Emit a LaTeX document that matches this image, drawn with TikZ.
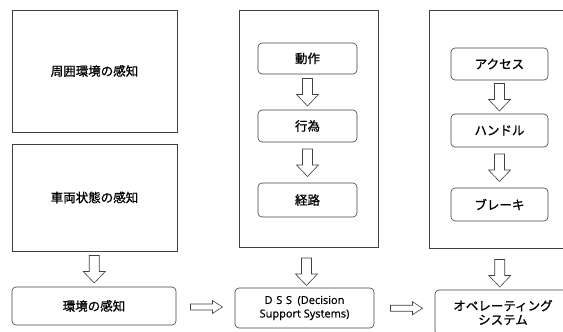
\documentclass[tikz,border=0pt]{standalone}
\usepackage{fontspec}
\setmainfont[FakeBold=1.0]{Noto Sans CJK JP}
\newfontfamily\latinf[FakeBold=0.6]{Open Sans}
\usetikzlibrary{calc}
\begin{document}
\begin{tikzpicture}[x=1pt,y=-1pt,
  frame/.style={draw=black!75,line width=0.6pt},
  sqbox/.style={frame,rectangle,inner sep=0pt,font=\fontsize{12.5}{14}\selectfont},
  rbox/.style={frame,rectangle,rounded corners=4pt,inner sep=0pt,font=\fontsize{12.5}{14}\selectfont},
  arrowst/.style={draw=black!75,line width=0.6pt,fill=white,line join=miter},
  darr/.pic={\path[arrowst] (-5,-13.5) -- (-5,2.5) -- (-11,2.5) -- (0,14) -- (11,2.5) -- (5,2.5) -- (5,-13.5) -- cycle;},
  harr/.pic={\path[arrowst] (-16,-3) -- (6,-3) -- (6,-6.5) -- (16,0) -- (6,6.5) -- (6,3) -- (-16,3) -- cycle;}
]
\useasboundingbox (0,0) rectangle (563,332);
\clip (0,0) rectangle (563,332);
\fill[white] (0,0) rectangle (563,332);

% left column
\node[sqbox,minimum width=165,minimum height=122] (A) at (94.5,71) {周囲環境の感知};
\node[sqbox,minimum width=165,minimum height=107] (B) at (94.5,197.5) {車両状態の感知};
\node[rbox,minimum width=164,minimum height=38] (C) at (94,306) {環境の感知};

% middle column
\node[sqbox,minimum width=139,minimum height=237] (M) at (308.5,128.5) {};
\node[rbox,minimum width=99,minimum height=31] (M1) at (307.5,58.5) {動作};
\node[rbox,minimum width=99,minimum height=32] (M2) at (307.5,126) {行為};
\node[rbox,minimum width=99,minimum height=34] (M3) at (307.5,200) {経路};
\node[rbox,minimum width=139,minimum height=40,align=center,
  font=\latinf\fontsize{11}{13.5}\selectfont] (D) at (304.5,308)
  {D\,\,S\,\,S\enspace(Decision\\Support Systems)};

% right column
\node[sqbox,minimum width=151,minimum height=238] (R) at (504.5,129) {};
\node[rbox,minimum width=97,minimum height=32] (R1) at (499.5,64) {アクセス};
\node[rbox,minimum width=97,minimum height=33] (R2) at (499.5,130.5) {ハンドル};
\node[rbox,minimum width=97,minimum height=33] (R3) at (499.5,204.5) {ブレーキ};
\node[rbox,minimum width=136,minimum height=45,align=center] (O) at (503,312.5)
  {オペレーティング\\システム};

% block arrows
\pic at ($(B.south)!0.5!(C.north)$) {darr};
\pic at ($(M1.south)!0.5!(M2.north)$) {darr};
\pic at ($(M2.south)!0.5!(M3.north)$) {darr};
\pic at ($(M.south)!0.5!(D.north)+(0,4)$) {darr};
\pic at ($(R1.south)!0.5!(R2.north)$) {darr};
\pic at ($(R2.south)!0.5!(R3.north)$) {darr};
\pic at ($(R.south)!0.5!(O.north)+(-4,4)$) {darr};
\pic at ($(C.east)!0.5!(D.west)+(1,0)$) {harr};
\pic at ($(D.east)!0.5!(O.west)+(2,-2)$) {harr};
\end{tikzpicture}
\end{document}
